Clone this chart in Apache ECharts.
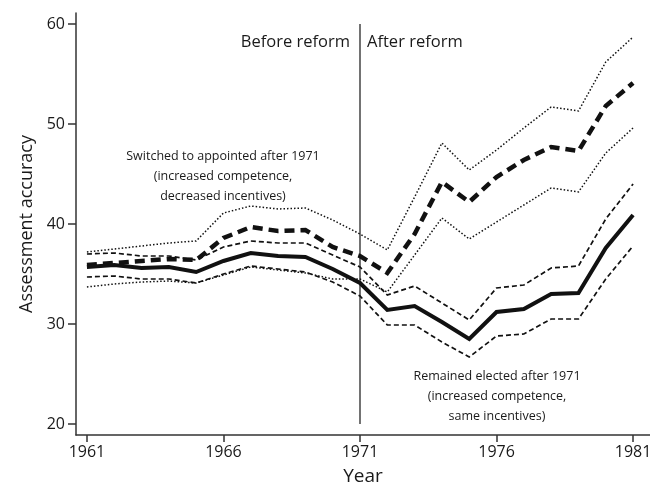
<!DOCTYPE html>
<html>
<head>
<meta charset="utf-8">
<script src="https://cdn.jsdelivr.net/npm/echarts@6/dist/echarts.min.js"></script>
<style>
  html, body { margin: 0; padding: 0; background: #fff; overflow: hidden; }
  #chart { width: 650px; height: 485px; }
</style>
</head>
<body>
<div id="chart"></div>
<script>
// Assessment accuracy by year, counties that stayed elected vs. switched to appointed
const years = [1961, 1962, 1963, 1964, 1965, 1966, 1967, 1968, 1969, 1970, 1971,
               1972, 1973, 1974, 1975, 1976, 1977, 1978, 1979, 1980, 1981];

const electedMean  = [35.7, 35.9, 35.6, 35.7, 35.2, 36.3, 37.1, 36.8, 36.7, 35.5, 34.1,
                      31.4, 31.8, 30.2, 28.5, 31.2, 31.5, 33.0, 33.1, 37.6, 40.9];
const electedUpper = [37.0, 37.1, 36.8, 36.8, 36.4, 37.7, 38.3, 38.1, 38.1, 36.9, 35.7,
                      32.9, 33.8, 32.1, 30.4, 33.6, 33.9, 35.6, 35.8, 40.5, 44.0];
const electedLower = [34.7, 34.8, 34.5, 34.5, 34.1, 35.0, 35.8, 35.5, 35.2, 34.2, 32.8,
                      29.9, 29.9, 28.2, 26.7, 28.8, 29.0, 30.5, 30.5, 34.5, 37.8];

const appointedMean  = [35.9, 36.1, 36.3, 36.5, 36.4, 38.6, 39.7, 39.3, 39.4, 37.7, 36.8,
                        35.1, 39.0, 44.2, 42.2, 44.7, 46.4, 47.7, 47.3, 51.8, 54.1];
const appointedUpper = [37.2, 37.5, 37.8, 38.1, 38.3, 41.1, 41.8, 41.5, 41.6, 40.4, 39.0,
                        37.4, 42.7, 48.1, 45.4, 47.4, 49.6, 51.7, 51.3, 56.2, 58.7];
const appointedLower = [33.7, 34.0, 34.2, 34.3, 34.1, 34.9, 35.7, 35.4, 35.1, 34.5, 34.5,
                        33.2, 36.9, 40.6, 38.5, 40.2, 41.9, 43.6, 43.2, 47.1, 49.6];

const yTicks = [20, 30, 40, 50, 60];
const xTicks = [1961, 1966, 1971, 1976, 1981];
const reformYear = 1971;

const FONT = '"Open Sans", "Noto Sans", sans-serif';
const INK = '#111';

function pairs(vals) { return years.map((y, i) => [y, vals[i]]); }

function lineSeries(name, vals, width, dash, z) {
  return {
    name, type: 'line', data: pairs(vals), showSymbol: false, symbol: 'none',
    z, silent: true, animation: false,
    lineStyle: { color: INK, width, type: dash, cap: 'butt', join: 'miter' }
  };
}

const chart = echarts.init(document.getElementById('chart'), null,
  { renderer: 'canvas', width: 650, height: 485 });

chart.setOption({
  animation: false,
  backgroundColor: '#fff',
  grid: { left: 76, right: 0, top: 13, bottom: 50, containLabel: false, outerBoundsMode: 'none' },
  xAxis: {
    type: 'value', min: 1960.6, max: 1981.62,
    name: 'Year', nameLocation: 'middle', nameGap: 32,
    nameTextStyle: { fontFamily: FONT, fontSize: 19, color: '#1a1a1a' },
    axisLine: { lineStyle: { color: '#333', width: 1.5 } },
    axisTick: { show: true, length: 7, customValues: xTicks, lineStyle: { color: '#333', width: 1.5 } },
    axisLabel: { customValues: xTicks, fontFamily: FONT, fontSize: 16, color: '#1a1a1a', margin: 9,
                 formatter: v => String(v) },
    splitLine: { show: false }
  },
  yAxis: {
    type: 'value', min: 18.9, max: 61.1,
    name: 'Assessment accuracy', nameLocation: 'middle', nameGap: 40, nameRotate: 90,
    nameTextStyle: { fontFamily: FONT, fontSize: 18, color: '#1a1a1a' },
    axisLine: { show: true, lineStyle: { color: '#333', width: 1.5 } },
    axisTick: { show: true, length: 8, customValues: yTicks, lineStyle: { color: '#333', width: 1.5 } },
    axisLabel: { customValues: yTicks, fontFamily: FONT, fontSize: 16, color: '#1a1a1a', margin: 11 },
    splitLine: { show: false }
  },
  graphic: [
    { type: 'text', right: 300, top: 34,
      style: { text: 'Before reform', fontFamily: FONT, fontSize: 16.5, fill: '#1a1a1a', textAlign: 'right' } },
    { type: 'text', left: 367, top: 34,
      style: { text: 'After reform', fontFamily: FONT, fontSize: 16.5, fill: '#1a1a1a' } },
    { type: 'text', x: 223, y: 146,
      style: { text: 'Switched to appointed after 1971\n(increased competence,\ndecreased incentives)',
               fontFamily: FONT, fontSize: 12.5, lineHeight: 20, fill: '#1a1a1a', align: 'center' } },
    { type: 'text', x: 497, y: 366,
      style: { text: 'Remained elected after 1971\n(increased competence,\nsame incentives)',
               fontFamily: FONT, fontSize: 12.5, lineHeight: 20, fill: '#1a1a1a', align: 'center' } }
  ],
  series: [
    // reform divider
    {
      type: 'line', data: [[reformYear, 20], [reformYear, 60]], showSymbol: false, symbol: 'none',
      silent: true, z: 1, lineStyle: { color: '#444', width: 1.5 }
    },
    lineSeries('Appointed upper', appointedUpper, 1.5, [1.5, 2], 2),
    lineSeries('Appointed lower', appointedLower, 1.5, [1.5, 2], 2),
    lineSeries('Elected upper', electedUpper, 1.7, [5, 3], 3),
    lineSeries('Elected lower', electedLower, 1.7, [5, 3], 3),
    lineSeries('Appointed', appointedMean, 4.5, [10, 6], 4),
    lineSeries('Elected', electedMean, 4, 'solid', 5)
  ]
});
</script>
</body>
</html>
